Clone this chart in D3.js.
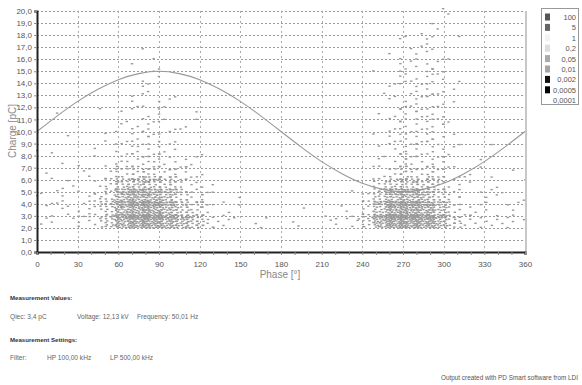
<!DOCTYPE html>
<html>
<head>
<meta charset="utf-8">
<script src="https://cdn.jsdelivr.net/npm/d3@7"></script>
<style>
  body { margin: 0; background: #fff; }
  svg { display: block; }
  text { font-family: "Liberation Sans Narrow", "Liberation Sans", Arial, sans-serif; }
</style>
</head>
<body>
<div id="chart"></div>
<script>
// phase bins (lower edge, 10 deg wide) and charge bins (lower edge, 1 pC tall)
const phaseBins = d3.range(0, 360, 10);
const chargeBins = d3.range(2, 20, 1);

// pulse counts per cell, one row per charge bin
const counts = [
  [2,2,2,3,5,22,48,55,55,45,35,22,8,3,2,1,1,1,1,1,1,1,2,4,15,45,60,60,55,38,14,5,3,3,3,3],
  [2,1,2,3,4,20,52,65,60,45,28,14,5,2,1,1,0,0,0,1,0,1,1,2,8,38,65,65,55,36,10,3,2,2,2,2],
  [2,2,2,2,4,15,45,55,50,35,18,8,3,1,1,0,0,0,0,0,0,0,0,1,4,22,45,45,35,22,6,2,2,2,1,1],
  [1,2,1,2,3,8,25,30,25,16,9,5,2,0,0,0,0,0,0,0,0,0,0,0,2,9,22,25,20,12,4,2,1,2,1,1],
  [1,1,1,1,2,4,11,12,10,7,5,3,1,0,0,0,0,0,0,0,0,0,0,0,0,4,9,10,9,7,3,1,0,1,0,0],
  [1,0,1,1,1,2,5,6,6,4,3,2,0,0,0,0,0,0,0,0,0,0,0,0,0,2,5,6,5,5,2,0,1,0,1,0],
  [1,0,0,1,0,1,4,5,4,3,2,1,0,0,0,0,0,0,0,0,0,0,0,0,0,2,4,5,4,4,2,0,0,1,0,0],
  [0,1,0,0,1,0,3,4,3,2,1,0,0,0,0,0,0,0,0,0,0,0,0,0,0,1,3,4,4,4,2,0,0,0,0,0],
  [0,0,0,0,0,0,2,3,3,2,1,0,1,0,0,0,0,0,0,0,0,0,0,0,0,1,3,4,4,4,1,0,0,0,0,0],
  [0,1,0,0,0,0,2,3,2,2,0,1,0,0,0,0,0,0,0,0,0,0,0,0,0,1,3,4,4,3,1,0,0,0,0,0],
  [0,0,0,0,1,0,1,2,2,2,0,0,0,0,0,0,0,0,0,0,0,0,0,0,0,1,2,4,4,3,1,0,0,0,0,0],
  [0,0,0,0,0,0,0,1,2,1,0,0,0,0,0,0,0,0,0,0,0,0,0,0,0,0,2,3,4,3,2,0,0,0,0,0],
  [0,0,0,0,0,0,0,1,1,1,0,0,0,0,0,0,0,0,0,0,0,0,0,0,0,1,2,3,3,3,1,0,0,0,0,0],
  [0,0,0,0,0,0,0,1,2,0,0,0,0,0,0,0,0,0,0,0,0,0,0,0,0,0,2,3,3,3,1,0,0,0,0,0],
  [0,0,0,0,0,0,0,0,1,0,0,0,0,0,0,0,0,0,0,0,0,0,0,0,0,0,1,2,2,2,0,0,0,0,0,0],
  [0,0,0,0,0,0,0,0,0,0,0,0,0,0,0,0,0,0,0,0,0,0,0,0,0,0,0,1,2,2,1,0,0,0,0,0],
  [0,0,0,0,0,0,0,0,0,0,0,0,0,0,0,0,0,0,0,0,0,0,0,0,0,0,0,1,1,2,0,0,0,0,0,0],
  [0,0,0,0,0,0,0,0,0,0,0,0,0,0,0,0,0,0,0,0,0,0,0,0,0,0,0,0,0,1,1,0,0,0,0,0]
];

// reference voltage curve, read every 15 deg
const sinePhase = d3.range(0, 361, 15);
const sineCharge = [10, 11.3, 12.5, 13.5, 14.3, 14.8, 15, 14.8, 14.3, 13.5, 12.5, 11.3, 10,
                    8.7, 7.5, 6.5, 5.7, 5.2, 5, 5.2, 5.7, 6.5, 7.5, 8.7, 10];

const xTicks = d3.range(0, 361, 30);
const yTicks = d3.range(0, 21, 1);

const legendLabels = ["100", "5", "1", "0,2", "0,05", "0,01", "0,002", "0,0005", "0,0001"];
const legendColors = ["#555", "#666", "#f2f2f2", "#dcdcdc", "#aaa", "#a4a4a4", "#111", "#000", "#fff"];

const W = 582, H = 385;
const svg = d3.select("#chart").append("svg").attr("width", W).attr("height", H);

const x = d3.scaleLinear().domain([0, 360]).range([37, 525]);
const y = d3.scaleLinear().domain([0, 20]).range([252, 11]);
const fmt = d => d3.format(".1f")(d).replace(".", ",");

// grid
svg.append("g").selectAll("line").data(yTicks.filter(d => d > 0)).enter().append("line")
    .attr("x1", x(0)).attr("x2", x(360))
    .attr("y1", d => Math.round(y(d)) + 0.5).attr("y2", d => Math.round(y(d)) + 0.5)
    .attr("stroke", "#9a9a9a").attr("stroke-dasharray", "2,2");
svg.append("g").selectAll("line").data(xTicks.filter(d => d > 0 && d < 360)).enter().append("line")
    .attr("x1", d => Math.round(x(d)) + 0.5).attr("x2", d => Math.round(x(d)) + 0.5)
    .attr("y1", y(20)).attr("y2", y(0))
    .attr("stroke", "#aaa").attr("stroke-dasharray", "2,3");

// pulses: each cell's dots laid out on a low-discrepancy pattern,
// shifted per cell and spread a bit wider than the bin so edges don't show
const frac = v => v - Math.floor(v);
const dots = [];
counts.forEach((row, r) => {
    row.forEach((n, c) => {
        const id = r * 36 + c + 1;
        const ox = frac(id * 0.6180339887), oy = frac(id * 0.7071067812);
        for (let i = 0; i < n; i++) {
            const fx = frac(ox + i * 0.7548776662);
            const fy = frac(oy + i * 0.5698402910);
            const ph = Math.max(0, Math.min(360, phaseBins[c] - 3 + fx * 16));
            const q = r === 0 ? chargeBins[r] + fy * 1.15 : chargeBins[r] - 0.25 + fy * 1.5;
            dots.push({ phase: ph, charge: q });
        }
    });
});
svg.append("g").selectAll("rect").data(dots).enter().append("rect")
    .attr("x", d => x(d.phase) - 1)
    .attr("y", d => y(d.charge) - 0.7)
    .attr("width", 2.4).attr("height", 1.4)
    .attr("fill", "#999");

// sine
svg.append("path")
    .datum(sinePhase.map((p, i) => [p, sineCharge[i]]))
    .attr("d", d3.line().x(d => x(d[0])).y(d => y(d[1])).curve(d3.curveNatural))
    .attr("fill", "none").attr("stroke", "#999").attr("stroke-width", 1.1);

// right border
svg.append("line").attr("x1", x(360) + 1).attr("x2", x(360) + 1).attr("y1", y(20)).attr("y2", y(0))
    .attr("stroke", "#c8c8c8").attr("stroke-width", 2);

// axes
const yAxis = svg.append("g").attr("transform", `translate(${x(0)},0)`)
    .call(d3.axisLeft(y).tickValues(yTicks).tickFormat(fmt).tickSize(3).tickPadding(2));
const xAxis = svg.append("g").attr("transform", `translate(0,${y(0)})`)
    .call(d3.axisBottom(x).tickValues(d3.range(0, 361, 10)).tickFormat(d => d % 30 === 0 ? d : "").tickSize(3).tickPadding(6));
[yAxis, xAxis].forEach(a => {
    a.select(".domain").attr("stroke", "#222").attr("stroke-width", 2);
    a.selectAll(".tick line").attr("stroke", "#888");
    a.selectAll("text").attr("fill", "#555").style("font-size", "8px");
});

svg.append("text").attr("x", 280).attr("y", 278).attr("text-anchor", "middle")
    .attr("fill", "#888").style("font-size", "10px").text("Phase [°]");
svg.append("text").attr("transform", "translate(16,131) rotate(-90)").attr("text-anchor", "middle")
    .attr("fill", "#888").style("font-size", "10px").text("Charge [pC]");

// legend
svg.append("rect").attr("x", 541.5).attr("y", 8.5).attr("width", 37).attr("height", 96)
    .attr("fill", "#fff").attr("stroke", "#999");
const leg = svg.append("g").selectAll("g").data(legendLabels).enter().append("g")
    .attr("transform", (d, i) => `translate(0,${17 + i * 10.4})`);
leg.append("rect").attr("x", 545).attr("y", -3.5).attr("width", 5).attr("height", 7)
    .attr("fill", (d, i) => legendColors[i]);
leg.append("text").attr("x", 576).attr("y", 3).attr("text-anchor", "end")
    .attr("fill", "#555").style("font-size", "7.5px").text(d => d);

// measurement info
const info = svg.append("g").style("font-family", "'DejaVu Sans', Verdana, sans-serif").style("font-size", "6.6px");
info.append("text").attr("x", 10).attr("y", 300).attr("fill", "#333").style("font-weight", "bold").style("font-size", "6.1px").text("Measurement Values:");
info.append("text").attr("x", 10).attr("y", 319).attr("fill", "#666").text("Qiec: 3,4 pC");
info.append("text").attr("x", 77).attr("y", 319).attr("fill", "#666").text("Voltage: 12,13 kV");
info.append("text").attr("x", 137).attr("y", 319).attr("fill", "#666").text("Frequency: 50,01 Hz");
info.append("text").attr("x", 10).attr("y", 342).attr("fill", "#333").style("font-weight", "bold").style("font-size", "6.1px").text("Measurement Settings:");
info.append("text").attr("x", 10).attr("y", 360).attr("fill", "#666").text("Filter:");
info.append("text").attr("x", 47).attr("y", 360).attr("fill", "#666").text("HP 100,00 kHz");
info.append("text").attr("x", 110).attr("y", 360).attr("fill", "#666").text("LP 500,00 kHz");
info.append("text").attr("x", 578).attr("y", 380).attr("text-anchor", "end").attr("fill", "#555").style("font-size", "6.4px").text("Output created with PD Smart software from LDI");
</script>
</body>
</html>
